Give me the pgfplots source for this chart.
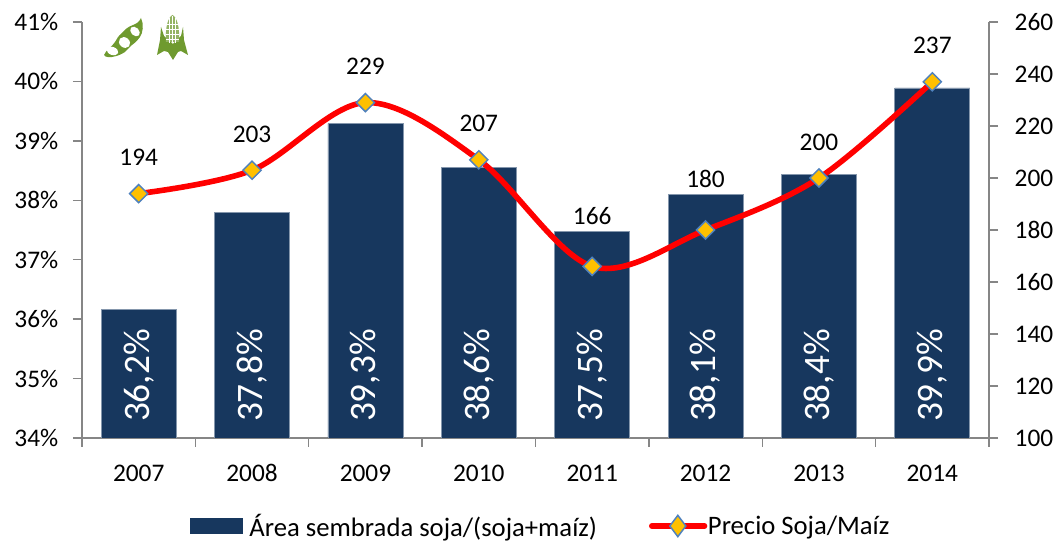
\documentclass[border=0pt]{standalone}
\usepackage{fontspec}
\setmainfont{Carlito}
\usepackage{pgfplots}
\usepackage{pgfplotstable}
\pgfplotsset{compat=1.18}

\definecolor{barblue}{HTML}{17375E}
\definecolor{baredge}{HTML}{8496AC}
\definecolor{axisgray}{HTML}{868686}
\definecolor{markfill}{HTML}{FFC000}
\definecolor{markline}{HTML}{4F81BD}
\definecolor{leaf}{HTML}{6F9A2F}

% 1 reference pixel = 0.75pt
\pgfdeclareplotmark{wdiamond}{%
  \pgfpathmoveto{\pgfqpoint{0pt}{\pgfplotmarksize}}%
  \pgfpathlineto{\pgfqpoint{\pgfplotmarksize}{0pt}}%
  \pgfpathlineto{\pgfqpoint{0pt}{-\pgfplotmarksize}}%
  \pgfpathlineto{\pgfqpoint{-\pgfplotmarksize}{0pt}}%
  \pgfpathclose
  \pgfusepathqfillstroke}

\pgfplotstableread{
x area labpos
0 36.16 35.05
1 37.80 35.05
2 39.29 35.05
3 38.56 35.05
4 37.47 35.05
5 38.10 35.05
6 38.44 35.05
7 39.89 35.05
}\areatable

\pgfplotstableread{
x precio dy
0 194 27
1 203 27
2 229 27
3 207 27
4 166 38
5 180 38
6 200 27
7 237 27
}\preciotable

\pgfplotsset{
  base/.style={
    scale only axis,
    width=680.25pt,
    height=312pt,
    at={(61.5pt,78pt)},
    anchor=south west,
    xmin=-0.5, xmax=7.5,
    enlargelimits=false,
    axis line style={-,color=axisgray,line width=1.1pt},
    tick style={color=axisgray,line width=1.1pt},
    tick align=outside,
    major tick length=6.75pt,
    minor tick length=6.75pt,
    tick label style={font=\fontsize{19}{22}\selectfont,/pgf/number format/assume math mode=true},
  },
}

\begin{document}
\begin{tikzpicture}
\useasboundingbox (0,0) rectangle (795pt,406.5pt);

\begin{axis}[
  base,
  axis y line*=left,
  axis x line*=bottom,
  ymin=34, ymax=41,
  ytick={34,35,...,41},
  yticklabel={\pgfmathprintnumber{\tick}\%},
  yticklabel style={xshift=-7.5pt},
  xtick={0,...,7},
  xticklabels={2007,2008,2009,2010,2011,2012,2013,2014},
  major x tick style={draw=none},
  minor xtick={-0.5,0.5,...,7.5},
  xticklabel style={anchor=base,yshift=-26.25pt},
]
  \addplot[ybar, bar width=56.25pt, bar shift=0pt, fill=barblue, draw=baredge, line width=0.6pt]
    table[x=x,y=area] {\areatable};
  \addplot[draw=none, mark=none,
    point meta=explicit,
    nodes near coords={\pgfmathprintnumber[fixed,fixed zerofill,precision=1,use comma,assume math mode=true]{\pgfplotspointmeta}\%},
    every node near coord/.append style={rotate=90,anchor=center,text=white,font=\fontsize{28}{32}\selectfont},
  ] table[x=x,y=labpos,meta=area] {\areatable};
\end{axis}

\begin{axis}[
  base,
  axis y line*=right,
  axis x line=none,
  ymin=100, ymax=260,
  ytick={100,120,...,260},
  yticklabel style={xshift=9pt},
  legend style={at={(81pt,-66pt)},anchor=west,draw=none,fill=none,
    font=\fontsize{20}{23}\selectfont,legend columns=4,
    inner sep=0pt,
    /tikz/column 1/.style={column sep=3pt},
    /tikz/column 2/.style={column sep=37pt},
    /tikz/column 3/.style={column sep=-1.5pt}},
  legend cell align=left,
]
  \addlegendimage{legend image code/.code={
    \fill[barblue] (0pt,-5.6pt) rectangle (39pt,5.6pt);}}
  \addlegendentry{Área sembrada soja/(soja+maíz)}
  \addplot[red, line width=4.2pt, smooth, tension=0.55,
    mark=wdiamond, mark size=6.8pt,
    mark options={fill=markfill,draw=markline,line width=1.1pt,solid},
    visualization depends on={\thisrow{dy} \as \labdy},
    nodes near coords,
    every node near coord/.append style={anchor=center,yshift=\labdy pt,text=black,
      font=\fontsize{19}{22}\selectfont,/pgf/number format/assume math mode=true},
    legend image code/.code={
      \draw[red,line width=4.2pt,line cap=round] (1.5pt,0pt) -- (41pt,0pt);
      \draw[fill=markfill,draw=markline,line width=1.1pt]
        (21pt,8pt) -- (27pt,0pt) -- (21pt,-8pt) -- (15pt,0pt) -- cycle;},
  ] table[x=x,y=precio] {\preciotable};
  \addlegendentry{Precio Soja/Maíz}
\end{axis}

% soy pod and corn cob, drawn in reference pixels
\begin{scope}[x=0.75pt,y=-0.75pt,yshift=406.5pt]
  \fill[leaf] (141,18) .. controls (139,23) and (135,24) .. (133,25)
    .. controls (127,27) and (125,30) .. (122,33)
    .. controls (118,36) and (117,39) .. (115,42)
    .. controls (111,48) and (106,50) .. (104,55)
    .. controls (106,58) and (110,57) .. (112,57)
    .. controls (118,56) and (122,54) .. (125,52)
    .. controls (128,49) and (130,47) .. (132,45)
    .. controls (136,42) and (138,40) .. (140,37)
    .. controls (143,33) and (144,24) .. (141,18) -- cycle;
  \fill[white,rotate around={-20:(112.5,51)}] (112.5,51) ellipse (6 and 4);
  \fill[white,rotate around={-40:(124.5,42.5)}] (124.5,42.5) ellipse (6 and 5);
  \fill[white,rotate around={-45:(135,31.5)}] (135,31.5) ellipse (5.5 and 4);
  \fill[leaf] (161,27) -- (164,36) -- (173,44) -- (181,36) -- (183,27) -- (184,40)
    -- (188,55) -- (181,51) -- (178,52) -- (173,60) -- (168,52) -- (164,51) -- (157,55)
    -- (160,40) -- cycle;
  \fill[leaf!75!white] (172.5,15) .. controls (168,17) and (165,28) .. (166,42)
    -- (179,42) .. controls (180,28) and (177,17) .. (172.5,15) -- cycle;
  \draw[white,line width=0.4pt] (169.5,18) -- (169.5,43) (172.5,16) -- (172.5,43) (175.5,18) -- (175.5,43)
    (166,24) -- (179,24) (166,29) -- (179,29) (166,34) -- (179,34) (166,39) -- (179,39);
\end{scope}
\end{tikzpicture}
\end{document}
